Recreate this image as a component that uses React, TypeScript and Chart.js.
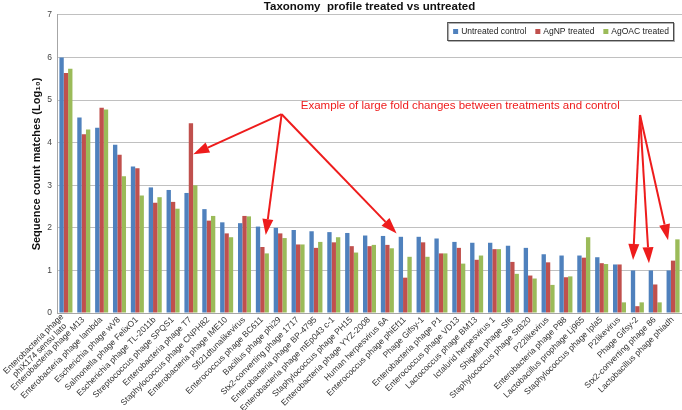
import React, { useEffect, useRef } from "react";
import { Chart, registerables } from "chart.js";

Chart.register(...registerables);

const categories: (string | string[])[] = [
  ["Enterobacteria phage", "phiX174 sensu lato"],
  "Enterobacteria phage M13",
  "Enterobacteria phage lambda",
  "Escherichia phage wV8",
  "Salmonella phage FelixO1",
  "Escherichia phage TL-2011b",
  "Streptococcus phage SPQS1",
  "Enterobacteria phage T7",
  "Staphylococcus phage CNPH82",
  "Enterobacteria phage IME10",
  "Sfi21dtunalikevirus",
  "Enterococcus phage BC611",
  "Bacillus phage phi29",
  "Stx2-converting phage 1717",
  "Enterobacteria phage BP-4795",
  "Enterobacteria phage mEp043 c-1",
  "Staphylococcus phage PH15",
  "Enterobacteria phage YYZ-2008",
  "Human herpesvirus 6A",
  "Enterococcus phage phiEf11",
  "Phage Gifsy-1",
  "Enterobacteria phage P1",
  "Enterococcus phage VD13",
  "Lactococcus phage BM13",
  "Ictalurid herpesvirus 1",
  "Shigella phage Sf6",
  "Staphylococcus phage StB20",
  "P22likevirus",
  "Enterobacteria phage P88",
  "Lactobacillus prophage Lj965",
  "Staphylococcus phage Ipla5",
  "P2likevirus",
  "Phage Gifsy-2",
  "Stx2-converting phage 86",
  "Lactobacillus phage phiadh",
];

const untreated = [6.0, 4.59, 4.35, 3.95, 3.44, 2.95, 2.89, 2.82, 2.44, 2.13, 2.11, 2.03, 2.0, 1.95, 1.92, 1.9, 1.88, 1.82, 1.81, 1.79, 1.79, 1.75, 1.67, 1.65, 1.65, 1.58, 1.53, 1.38, 1.35, 1.35, 1.31, 1.14, 1.0, 1.0, 1.0];
const agnp = [5.64, 4.2, 4.82, 3.72, 3.4, 2.59, 2.61, 4.46, 2.17, 1.87, 2.28, 1.55, 1.87, 1.61, 1.53, 1.66, 1.57, 1.57, 1.6, 0.83, 1.66, 1.4, 1.53, 1.25, 1.5, 1.2, 0.88, 1.19, 0.84, 1.3, 1.17, 1.14, 0.16, 0.67, 1.23];
const agoac = [5.74, 4.31, 4.78, 3.21, 2.76, 2.72, 2.45, 3.0, 2.28, 1.78, 2.27, 1.4, 1.76, 1.61, 1.67, 1.78, 1.42, 1.6, 1.52, 1.32, 1.32, 1.4, 1.16, 1.35, 1.5, 0.92, 0.81, 0.66, 0.86, 1.78, 1.15, 0.25, 0.25, 0.25, 1.73];

const seriesNames = ["Untreated control", "AgNP treated", "AgOAC treated"];
const seriesColors = ["#4f81bd", "#c0504d", "#9bbb59"];

const titleText = "Taxonomy  profile treated vs untreated";
const yTitle = "Sequence count matches (Log\u2081\u2080)";
const noteText = "Example of large fold changes between treatments and control";

// annotation anchors in data space: [categoryIndex, value]
const noteAnchor = [13.15, 4.86];
const arrowOriginLeft = [12.08, 4.67];
const arrowOriginRight = [32.15, 4.65];
const arrowTipsLeft = [
  [7.13, 3.73],
  [11.19, 1.83],
  [18.52, 1.87],
];
const arrowTipsRight = [
  [31.76, 1.245],
  [32.65, 1.17],
  [33.72, 1.71],
];

const FONT = '"Liberation Sans", Arial, sans-serif';
const RED = "#ee1c1c";

function drawArrow(ctx: CanvasRenderingContext2D, x0: number, y0: number, x1: number, y1: number) {
  const ang = Math.atan2(y1 - y0, x1 - x0);
  const headLen = 16;
  const headW = 5.5;
  const bx = x1 - headLen * Math.cos(ang);
  const by = y1 - headLen * Math.sin(ang);
  ctx.beginPath();
  ctx.moveTo(x0, y0);
  ctx.lineTo(bx, by);
  ctx.stroke();
  ctx.beginPath();
  ctx.moveTo(x1, y1);
  ctx.lineTo(bx + headW * Math.sin(ang), by - headW * Math.cos(ang));
  ctx.lineTo(bx - headW * Math.sin(ang), by + headW * Math.cos(ang));
  ctx.closePath();
  ctx.fill();
}

const annotationPlugin = {
  id: "annotations",
  afterDatasetsDraw(chart: any) {
    const { ctx, scales } = chart;
    const x = scales.x;
    const y = scales.y;
    const px = (p: number[]) => [x.getPixelForValue(p[0]), y.getPixelForValue(p[1])];
    ctx.save();
    ctx.strokeStyle = RED;
    ctx.fillStyle = RED;
    ctx.lineWidth = 2;
    ctx.lineJoin = "round";
    const [olx, oly] = px(arrowOriginLeft);
    arrowTipsLeft.forEach((t) => {
      const [tx, ty] = px(t);
      drawArrow(ctx, olx, oly, tx, ty);
    });
    const [orx, ory] = px(arrowOriginRight);
    arrowTipsRight.forEach((t) => {
      const [tx, ty] = px(t);
      drawArrow(ctx, orx, ory, tx, ty);
    });
    const [nx, ny] = px(noteAnchor);
    ctx.font = `11.5px ${FONT}`;
    ctx.textAlign = "left";
    ctx.textBaseline = "middle";
    ctx.fillText(noteText, nx, ny);
    ctx.restore();
  },
  afterDraw(chart: any) {
    const { ctx, chartArea, scales } = chart;
    // category labels, rotated 45 degrees, end anchored under each category
    const xs = scales.x;
    ctx.save();
    ctx.font = `8.5px ${FONT}`;
    ctx.fillStyle = "#333333";
    ctx.textBaseline = "middle";
    const lineH = 8.6;
    categories.forEach((lab, i) => {
      const px = xs.getPixelForTick(i);
      ctx.save();
      ctx.translate(px - 0.5, chartArea.bottom + 5.5);
      ctx.rotate(-Math.PI / 4);
      if (Array.isArray(lab)) {
        const w = Math.max(...lab.map((l) => ctx.measureText(l).width));
        ctx.textAlign = "center";
        lab.forEach((l, j) => {
          ctx.fillText(l, -w / 2, (j - (lab.length - 1) / 2) * lineH);
        });
      } else {
        ctx.textAlign = "right";
        ctx.fillText(lab, 0, 0);
      }
      ctx.restore();
    });
    ctx.restore();

    // legend box
    ctx.save();
    ctx.font = `8.5px ${FONT}`;
    const widths = seriesNames.map((n) => ctx.measureText(n).width);
    const padL = 6;
    const padR = 4;
    const sq = 5;
    const sqGap = 8;
    const itemGap = 9;
    const total = padL + padR + widths.reduce((a, w) => a + sqGap + w, 0) + itemGap * (seriesNames.length - 1);
    const right = chartArea.right - 9;
    const left = right - total;
    const top = chartArea.top + 7;
    const h = 18;
    ctx.fillStyle = "#ffffff";
    ctx.fillRect(left, top, total, h);
    ctx.strokeStyle = "#b0b0b0";
    ctx.lineWidth = 1;
    ctx.strokeRect(left + 1.5, top + 1.5, total, h);
    ctx.strokeStyle = "#4a4a4a";
    ctx.strokeRect(left + 0.5, top + 0.5, total, h);
    let cx = left + padL;
    const cy = top + h / 2 + 0.5;
    seriesNames.forEach((n, i) => {
      ctx.fillStyle = seriesColors[i];
      ctx.fillRect(cx, cy - sq / 2, sq, sq);
      ctx.fillStyle = "#222222";
      ctx.textAlign = "left";
      ctx.textBaseline = "middle";
      ctx.fillText(n, cx + sqGap, cy);
      cx += sqGap + widths[i] + itemGap;
    });
    ctx.restore();
  },
};

export default function App() {
  const ref = useRef<HTMLCanvasElement | null>(null);
  useEffect(() => {
    if (!ref.current) return;
    const chart = new Chart(ref.current, {
      type: "bar",
      data: {
        labels: categories,
        datasets: [untreated, agnp, agoac].map((d, i) => ({
          label: seriesNames[i],
          data: d,
          backgroundColor: seriesColors[i],
          borderWidth: 0,
          categoryPercentage: 0.73,
          barPercentage: 1.0,
        })),
      },
      options: {
        animation: false,
        responsive: true,
        maintainAspectRatio: false,
        layout: { padding: { top: 0, left: 28, right: 0, bottom: 0 } },
        plugins: {
          legend: { display: false },
          tooltip: { enabled: false },
          title: {
            display: true,
            text: titleText,
            fullSize: false,
            color: "#111111",
            font: { family: FONT, size: 11.5, weight: "bold" },
            padding: { top: 0, bottom: 1.2 },
          },
        },
        scales: {
          x: {
            grid: { display: false },
            border: { display: true, color: "#a6a6a6", width: 1 },
            ticks: { display: false, autoSkip: false },
            afterFit: (s: any) => {
              s.height = 97;
            },
          },
          y: {
            min: 0,
            max: 7,
            ticks: {
              stepSize: 1,
              color: "#444444",
              padding: 5,
              font: { family: FONT, size: 8.5 },
            },
            grid: { color: "#c0c0c0", lineWidth: 1, drawTicks: false },
            border: { display: true, color: "#a6a6a6", width: 1 },
            title: {
              display: true,
              text: yTitle,
              color: "#111111",
              font: { family: FONT, size: 11, weight: "bold" },
              padding: { top: 2, bottom: 2 },
            },
            afterFit: (s: any) => {
              s.width = 29;
            },
          },
        },
      },
      plugins: [annotationPlugin],
    });
    return () => chart.destroy();
  }, []);
  return (
    <div style={{ position: "fixed", left: 0, top: 0, width: 682, height: 410, background: "#ffffff" }}>
      <canvas ref={ref} />
    </div>
  );
}
